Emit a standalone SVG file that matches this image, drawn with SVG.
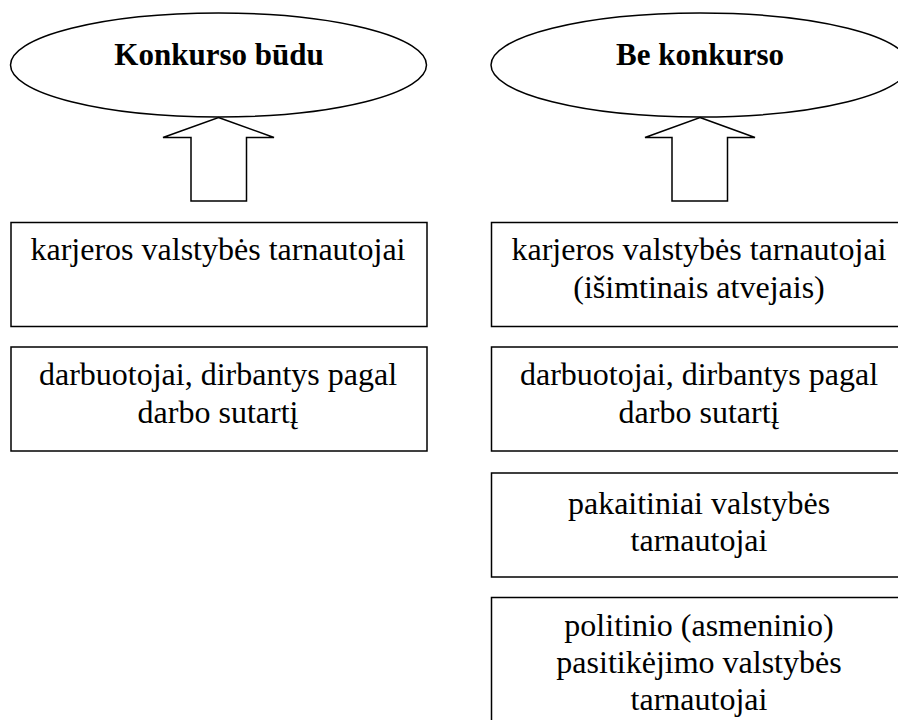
<svg xmlns="http://www.w3.org/2000/svg" width="898" height="720" viewBox="0 0 898 720">
<style>
.shape{fill:#fff;stroke:#000;stroke-width:1.5}
.t{font-size:32px;fill:#000;text-anchor:middle}
.b{font-weight:bold;font-size:31px}
</style>
<rect width="898" height="720" fill="#fff"/>
<g font-family="Liberation Serif, serif">
<g id="ellipse-konkurso">
<ellipse class="shape" cx="218.5" cy="65" rx="208" ry="52"/>
<text class="t b" x="219" y="65">Konkurso būdu</text>
</g>
<g id="ellipse-be-konkurso">
<ellipse class="shape" cx="700" cy="65" rx="209" ry="52"/>
<text class="t b" x="700" y="65">Be konkurso</text>
</g>
<g id="connectors">
<polygon class="shape" points="218.5,117.5 274,137.5 246.5,137.5 246.5,201 191,201 191,137.5 163,137.5"/>
<polygon class="shape" points="700,117.5 755,137.5 727.5,137.5 727.5,201 672,201 672,137.5 645,137.5"/>
</g>
<g id="left-karjeros">
<rect class="shape" x="11" y="222.5" width="416" height="104"/>
<text class="t" x="218" y="260">karjeros valstybės tarnautojai</text>
</g>
<g id="left-darbuotojai">
<rect class="shape" x="11" y="347" width="416" height="104"/>
<text class="t" x="218" y="385">darbuotojai, dirbantys pagal</text>
<text class="t" x="218" y="423">darbo sutartį</text>
</g>
<g id="right-karjeros">
<rect class="shape" x="491.5" y="222.5" width="417" height="104"/>
<text class="t" x="699" y="260">karjeros valstybės tarnautojai</text>
<text class="t" x="699" y="298">(išimtinais atvejais)</text>
</g>
<g id="right-darbuotojai">
<rect class="shape" x="491.5" y="347" width="417" height="104"/>
<text class="t" x="699" y="385">darbuotojai, dirbantys pagal</text>
<text class="t" x="699" y="423">darbo sutartį</text>
</g>
<g id="right-pakaitiniai">
<rect class="shape" x="491.5" y="473" width="417" height="104"/>
<text class="t" x="699" y="514">pakaitiniai valstybės</text>
<text class="t" x="699" y="551">tarnautojai</text>
</g>
<g id="right-politinio">
<rect class="shape" x="491.5" y="597.5" width="417" height="140"/>
<text class="t" x="699" y="636">politinio (asmeninio)</text>
<text class="t" x="699" y="673">pasitikėjimo valstybės</text>
<text class="t" x="699" y="710">tarnautojai</text>
</g>
</g>
</svg>
